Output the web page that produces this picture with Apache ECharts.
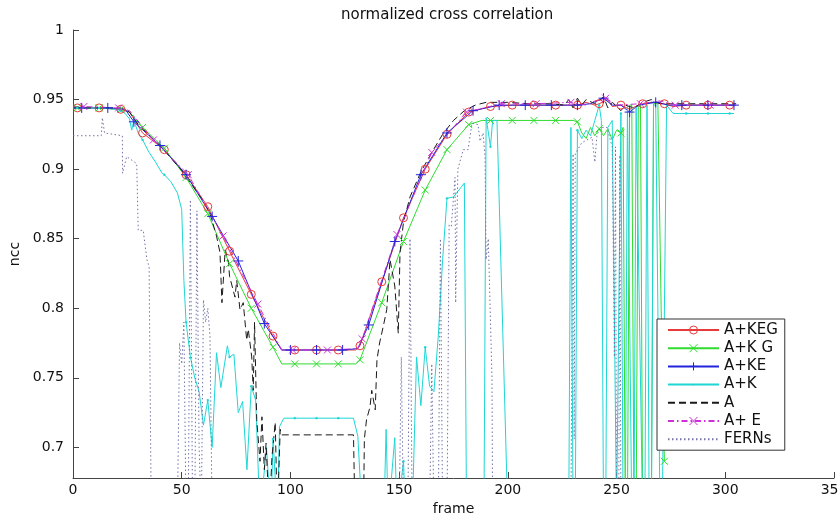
<!DOCTYPE html>
<html>
<head>
<meta charset="utf-8" />
<title>normalized cross correlation</title>
<script src="https://cdn.jsdelivr.net/npm/echarts@6/dist/echarts.min.js"></script>
<style>
  html, body { margin: 0; padding: 0; background: #fff; }
  #main { width: 839px; height: 518px; }
</style>
</head>
<body>
<div id="main"></div>
<script type="text/javascript">
// series names as in the legend
var seriesNames = ['A+KEG', 'A+K G', 'A+KE', 'A+K', 'A', 'A+ E', 'FERNs'];

// x axis ticks (frame) and y axis range (ncc)
var xTicks = [0, 50, 100, 150, 200, 250, 300, 350];
var yRange = [0.678, 1];

// [frame, ncc]; 0.65 = below the visible range
var kegData = [[0,.944],[2,.944],[12,.944],[22,.943],[26,.941],[32,.926],[42,.914],[52,.896],[62,.873],[72,.841],[82,.810],[92,.780],[96,.770],[102,.770],[112,.770],[122,.770],[130,.770],[132,.773],[142,.819],[152,.865],[162,.900],[172,.925],[182,.941],[192,.945],[202,.946],[212,.946],[222,.946],[232,.946],[236,.948],[240,.946],[242,.947],[246,.950],[248,.945],[252,.946],[256,.943],[260,.946],[262,.947],[266,.948],[272,.947],[276,.945],[282,.946],[292,.946],[302,.946],[305,.946]];

var kgData = [[0,.944],[2,.944],[12,.944],[22,.943],[26,.941],[32,.930],[42,.915],[52,.894],[62,.868],[72,.832],[82,.800],[92,.772],[96,.760],[102,.760],[112,.760],[122,.760],[130,.760],[132,.763],[142,.804],[152,.848],[162,.885],[172,.914],[182,.932],[188,.935],[192,.935],[202,.935],[212,.935],[222,.935],[230,.935],[232,.934],[234,.926],[236,.922],[238,.930],[240,.924],[242,.929],[244,.924],[246,.929],[248,.921],[250,.928],[252,.926],[253,.930],[254,.65],[255,.65],[256,.946],[257,.946],[258,.65],[259,.65],[260,.946],[261,.946],[262,.65],[266,.65],[267,.947],[269,.947],[270.5,.80],[272,.690]];

var keData = [[0,.944],[4,.944],[16,.944],[24,.943],[28,.934],[40,.917],[52,.896],[64,.866],[76,.834],[88,.789],[96,.770],[100,.770],[112,.770],[124,.770],[131,.771],[136,.788],[148,.848],[160,.896],[172,.926],[184,.942],[196,.946],[208,.946],[220,.946],[232,.946],[238,.947],[244,.951],[248,.946],[252,.946],[256,.941],[260,.946],[268,.948],[274,.946],[280,.946],[292,.946],[304,.946]];

var kData = [[0,.944],[2,.944],[12,.944],[20,.943],[22,.942],[24,.940],[26,.936],[27,.928],[28,.935],[30,.926],[32,.921],[35,.912],[38,.905],[41,.897],[42,.896],[45,.891],[48,.883],[50,.871],[51,.820],[52,.790],[54,.765],[56,.750],[58,.740],[60,.716],[62,.734],[64,.700],[66,.768],[68,.743],[71,.773],[72,.765],[74,.767],[76,.725],[78,.733],[80,.684],[82,.744],[84,.734],[86,.65],[89,.700],[91,.65],[92,.706],[94,.65],[95,.715],[97,.721],[102,.721],[112,.721],[122,.721],[129,.721],[131,.708],[133,.65],[143,.65],[144,.713],[145,.65],[148,.707],[149,.65],[152,.690],[153,.65],[156,.65],[158,.765],[160,.730],[162,.772],[164,.744],[166,.740],[168,.780],[170,.835],[172,.879],[175,.880],[180,.890],[181,.65],[189,.65],[190,.937],[192,.916],[193,.935],[195,.935],[200,.65],[228,.65],[229,.930],[230,.65],[231,.65],[232,.928],[234,.922],[236,.928],[238,.924],[240,.935],[242,.946],[243,.935],[244,.65],[245,.65],[246,.930],[248,.935],[250,.65],[252,.940],[253,.65],[254,.65],[255,.945],[257,.65],[258,.65],[259,.945],[262,.65],[263,.65],[264,.946],[265,.65],[266,.65],[267,.946],[268,.946],[270,.65],[271,.65],[273,.946],[276,.940],[282,.940],[292,.940],[302,.940],[304,.940]];

var aData = [[0,.944],[22,.944],[26,.941],[30,.932],[40,.917],[50,.899],[60,.877],[63,.868],[66,.852],[67.6,.840],[68.5,.804],[70,.842],[71.5,.833],[72,.823],[74.5,.808],[75.3,.820],[76.8,.799],[78.3,.804],[79.9,.777],[80.6,.785],[82.2,.765],[82.9,.741],[83.5,.790],[84.5,.720],[86,.690],[86.9,.722],[88,.684],[88.8,.703],[90.3,.65],[91.5,.693],[93,.718],[94,.65],[95.3,.713],[96,.709],[129,.709],[129.7,.65],[133.6,.65],[134,.706],[135,.720],[136.6,.729],[137.4,.741],[139,.727],[139.8,.763],[141,.775],[142.7,.787],[144.3,.799],[145.8,.835],[148,.816],[149.6,.782],[150.4,.840],[152,.862],[155,.880],[160,.898],[165,.912],[170,.925],[175,.935],[180,.942],[185,.946],[190,.948],[200,.948],[210,.947],[220,.947],[226,.946],[228,.950],[230,.944],[232,.951],[234,.946],[236,.950],[240,.947],[244,.952],[246,.944],[248,.948],[252,.942],[254,.946],[258,.944],[262,.948],[266,.950],[270,.947],[280,.947],[290,.947],[305,.947]];

var eData = [[0,.945],[5,.945],[21,.944],[26,.942],[37,.921],[53,.896],[69,.852],[85,.803],[96,.770],[101,.770],[117,.770],[131,.771],[133,.778],[149,.853],[165,.912],[181,.941],[197,.947],[213,.947],[229,.948],[236,.946],[240,.949],[245,.951],[250,.946],[261,.947],[270,.949],[277,.946],[293,.946],[305,.946]];

var fernsData = [[0,.924],[13,.924],[13.5,.937],[14.5,.926],[22.7,.924],[22.8,.897],[24.7,.909],[29.3,.904],[30,.856],[32.3,.856],[34,.835],[35,.830],[36,.65],[48,.65],[49,.775],[50,.760],[51,.790],[52,.65],[53,.65],[54,.878],[55,.65],[56,.65],[57,.870],[58,.700],[59,.65],[60,.806],[61,.790],[62,.800],[63,.780],[64,.65],[150,.65],[151,.765],[152,.65],[154,.65],[155,.850],[156,.65],[164,.65],[165,.760],[166,.65],[168,.65],[169,.850],[170,.65],[172,.65],[173,.860],[174,.859],[175.7,.894],[176,.804],[177,.900],[179.5,.914],[181.7,.914],[183.5,.933],[186.3,.932],[187.2,.920],[188.6,.926],[189.5,.909],[190,.835],[191,.850],[192.7,.750],[193,.65],[229,.65],[230,.911],[230.5,.706],[231,.911],[234,.919],[236.4,.921],[238.7,.923],[240,.905],[241,.925],[243,.930],[245.6,.930],[248,.916],[249,.765],[249.5,.916],[250,.65],[251,.65],[251.5,.910],[252,.65],[305,.65]];

var FONT = 'DejaVu Sans';
var symX = 'path://M0,0L10,10M10,0L0,10';
var symPlus = 'path://M5,0L5,10M0,5L10,5';
var symDot = 'path://M0,0L0,0M10,10L10,10M3.8,5A1.2,1.2,0,1,1,6.2,5A1.2,1.2,0,1,1,3.8,5Z';

// marker every `step` frames starting at `off`
function markerSize(step, off, size) {
    return function (val) {
        var r = (val[0] - off) / step;
        return (r >= 0 && Math.abs(r - Math.round(r)) < 1e-6) ? size : 0;
    };
}

function mkSeries(name, data, color, symbol, sizeFn, lineType, fillSym) {
    return {
        name: name,
        type: 'line',
        data: data,
        showSymbol: true,
        symbol: symbol,
        symbolSize: sizeFn,
        lineStyle: { color: color, width: 1, type: lineType },
        itemStyle: { color: fillSym ? color : 'rgba(0,0,0,0)', borderColor: color, borderWidth: fillSym ? 0 : 1 },
        emphasis: { disabled: true },
        silent: true
    };
}

var myChart = echarts.init(document.getElementById('main'), null, { renderer: 'canvas' });

myChart.setOption({
    animation: false,
    backgroundColor: '#fff',
    title: {
        text: 'normalized cross correlation',
        left: 341,
        top: 8,
        padding: 0,
        textStyle: { fontFamily: FONT, fontSize: 15, fontWeight: 'normal', color: '#111' }
    },
    legend: {
        orient: 'vertical',
        left: 657,
        top: 319,
        padding: [2, 7, 2, 10],
        itemWidth: 51,
        itemHeight: 10,
        itemGap: 0.2,
        selectedMode: false,
        backgroundColor: '#fff',
        borderColor: '#333',
        borderWidth: 1,
        textStyle: { fontFamily: FONT, fontSize: 15, color: '#111', lineHeight: 18 },
        data: [
            { name: seriesNames[0], itemStyle: { borderWidth: 1 } },
            { name: seriesNames[1], itemStyle: { borderWidth: 1 } },
            { name: seriesNames[2], itemStyle: { borderWidth: 1 } },
            { name: seriesNames[3] },
            { name: seriesNames[4], itemStyle: { opacity: 0 } },
            { name: seriesNames[5], itemStyle: { borderWidth: 1 } },
            { name: seriesNames[6], itemStyle: { opacity: 0 } }
        ]
    },
    grid: { left: 73, right: 5, top: 30, bottom: 40, containLabel: false, outerBoundsMode: 'none' },
    xAxis: {
        type: 'value',
        min: xTicks[0],
        max: xTicks[xTicks.length - 1],
        interval: 50,
        name: 'frame',
        nameLocation: 'middle',
        nameGap: 17,
        nameTextStyle: { fontFamily: FONT, fontSize: 14, color: '#111' },
        axisLine: { onZero: false, lineStyle: { color: '#444', width: 1 } },
        axisTick: { inside: true, length: 6, lineStyle: { color: '#444' } },
        axisLabel: { margin: 5, fontFamily: FONT, fontSize: 14, color: '#111' },
        splitLine: { show: false }
    },
    yAxis: {
        type: 'value',
        min: yRange[0],
        max: yRange[1],
        splitNumber: 5,
        name: 'ncc',
        nameLocation: 'middle',
        nameGap: 47,
        nameRotate: 90,
        nameTextStyle: { fontFamily: FONT, fontSize: 14, color: '#111' },
        axisLine: { show: true, onZero: false, lineStyle: { color: '#444', width: 1 } },
        axisTick: { show: true, inside: true, length: 6, lineStyle: { color: '#444' } },
        axisLabel: {
            margin: 9, fontFamily: FONT, fontSize: 14, color: '#111',
            formatter: function (v) {
                var r = v / 0.05;
                if (Math.abs(r - Math.round(r)) > 1e-6) return '';
                return String(parseFloat(v.toFixed(2)));
            }
        },
        splitLine: { show: false }
    },
    series: [
        mkSeries(seriesNames[0], kegData, '#e83a3a', 'circle', markerSize(10, 2, 8), 'solid', false),
        mkSeries(seriesNames[1], kgData, '#2fdc2f', symX, markerSize(10, 2, 7), 'solid', false),
        mkSeries(seriesNames[2], keData, '#2323dd', symPlus, markerSize(12, 4, 10), 'solid', false),
        mkSeries(seriesNames[3], kData, '#1fd6d6', symDot, markerSize(10, 2, 10), 'solid', true),
        mkSeries(seriesNames[4], aData, '#1a1a1a', 'none', 0, [7, 4], false),
        mkSeries(seriesNames[5], eData, '#cc2fd8', symX, markerSize(16, 5, 7), [6, 3, 1.5, 3], false),
        mkSeries(seriesNames[6], fernsData, '#7373a8', 'none', 0, [1.5, 2.5], false)
    ]
});
</script>
</body>
</html>
